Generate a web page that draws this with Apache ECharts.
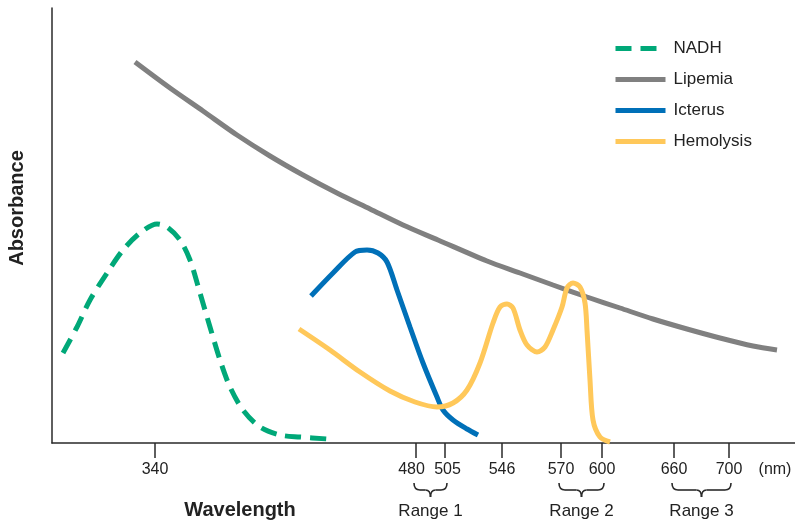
<!DOCTYPE html>
<html>
<head>
<meta charset="utf-8">
<script src="https://cdn.jsdelivr.net/npm/echarts@6/dist/echarts.min.js"></script>
<style>html,body{margin:0;padding:0;background:#fff}#c{width:795px;height:521px}</style>
</head>
<body>
<div id="c"></div>
<script>
// Schematic axis: x in schematic position units, y in arbitrary absorbance units
const tickNm = [340, 480, 505, 546, 570, 600, 660, 700];
const tickPos = [103, 364, 393, 450, 509, 550, 622, 677];
const unitPos = 723;
const unitLabel = '(nm)';
const ranges = [
  { name: 'Range 1', from: 480, to: 505 },
  { name: 'Range 2', from: 570, to: 600 },
  { name: 'Range 3', from: 660, to: 700 }
];
const seriesNames = ['NADH', 'Lipemia', 'Icterus', 'Hemolysis'];

const nadh = [[11,90],[25,116],[38,143],[55,170],[71,193],[88,210],[105,219],[115,216],[128,203],[138,183],[148,150],[158,116],[168,83],[178,56],[191,33],[208,16],[228,8],[248,6],[276,4]];
const lipemia = [[83,381],[118,355],[151,332],[185,308],[218,287],[251,268],[285,250],[318,234],[351,218],[386,203],[435,182],[468,170],[501,158],[535,146],[568,135],[601,124],[635,114],[668,105],[701,97],[725,93]];
const icterus = [[259,147],[281,170],[303,191],[315,193],[326,190],[335,181],[345,153],[358,116],[371,80],[385,46],[391,33],[401,23],[415,14],[426,8]];
const hemolysis = [[247,114],[278,93],[308,71],[338,52],[363,41],[385,36],[401,40],[415,53],[428,80],[441,120],[448,136],[455,139],[461,135],[468,113],[475,98],[485,91],[493,96],[501,113],[510,136],[515,155],[521,160],[528,156],[533,140],[535,113],[538,63],[541,23],[548,6],[558,1]];

const colors = { NADH: '#00a878', Lipemia: '#808080', Icterus: '#0070b8', Hemolysis: '#ffc85a' };
const FONT = '"Liberation Sans", Arial, sans-serif';
const TXT = '#222';

function posOf(nm) { return tickPos[tickNm.indexOf(nm)]; }

const chart = echarts.init(document.getElementById('c'), null, { renderer: 'canvas' });

function lineSeries(name, data, dashed) {
  return {
    name, type: 'line', data, smooth: 0.3, symbol: 'none', silent: true,
    lineStyle: { color: colors[name], width: 5, type: dashed ? [16, 9] : 'solid', cap: 'butt' },
    itemStyle: { color: colors[name] }
  };
}

chart.setOption({
  animation: false,
  grid: { left: 52, right: 0, top: 8, bottom: 78 },
  xAxis: {
    type: 'value', min: 0, max: 743,
    splitLine: { show: false },
    axisLine: { show: true, lineStyle: { color: '#2a2a2a', width: 1.5 } },
    axisTick: { show: true, customValues: tickPos, length: 15, lineStyle: { color: '#2a2a2a', width: 1.5 } },
    axisLabel: {
      customValues: tickPos.concat([unitPos]), margin: 19,
      color: TXT, fontFamily: FONT, fontSize: 16,
      rich: {
        l: { color: TXT, fontFamily: FONT, fontSize: 16, padding: [0, 9, 0, 0] },
        r: { color: TXT, fontFamily: FONT, fontSize: 16, padding: [0, 0, 0, 5] }
      },
      formatter: function (v) {
        if (Math.abs(v - unitPos) < 0.5) return unitLabel;
        for (let i = 0; i < tickPos.length; i++) {
          if (Math.abs(v - tickPos[i]) < 0.5) {
            const s = String(tickNm[i]);
            if (tickNm[i] === 480) return '{l|' + s + '}';
            if (tickNm[i] === 505) return '{r|' + s + '}';
            return s;
          }
        }
        return '';
      }
    }
  },
  yAxis: {
    type: 'value', min: 0, max: 435,
    splitLine: { show: false },
    axisLine: { show: true, lineStyle: { color: '#2a2a2a', width: 1.5 } },
    axisTick: { show: false }, axisLabel: { show: false }
  },
  legend: {
    data: seriesNames.map(function (n) { return { name: n, itemStyle: { opacity: 0 } }; }),
    orient: 'vertical', left: 608, top: 35,
    itemWidth: 50, itemHeight: 14, itemGap: 14,
    lineStyle: { width: 5 },
    textStyle: { color: TXT, fontFamily: FONT, fontSize: 17, padding: [0, 0, 0, 3] },
    selectedMode: false
  },
  series: [
    lineSeries('NADH', nadh, true),
    lineSeries('Lipemia', lipemia, false),
    lineSeries('Icterus', icterus, false),
    lineSeries('Hemolysis', hemolysis, false)
  ]
});

// Annotations: braces and range labels placed from axis values
const graphics = [];
const yTop = 483, yMid = 490, yBot = 497;
const braceStyle = { fill: null, stroke: '#2a2a2a', lineWidth: 1.6 };
function bz(x1, y1, cx, cy, x2, y2) {
  return { type: 'bezierCurve', shape: { x1: x1, y1: y1, cpx1: cx, cpy1: cy, x2: x2, y2: y2 }, style: braceStyle, silent: true };
}
function ln(x1, y1, x2, y2) {
  return { type: 'line', shape: { x1: x1, y1: y1, x2: x2, y2: y2 }, style: braceStyle, silent: true };
}
ranges.forEach(function (r) {
  const x1 = chart.convertToPixel({ xAxisIndex: 0 }, posOf(r.from)) - 2;
  const x2 = chart.convertToPixel({ xAxisIndex: 0 }, posOf(r.to)) + 2;
  const xm = (x1 + x2) / 2;
  graphics.push(bz(x1, yTop, x1, yMid, x1 + 6, yMid));
  graphics.push(ln(x1 + 6, yMid, xm - 5, yMid));
  graphics.push(bz(xm - 5, yMid, xm, yMid, xm, yBot));
  graphics.push(bz(xm, yBot, xm, yMid, xm + 5, yMid));
  graphics.push(ln(xm + 5, yMid, x2 - 6, yMid));
  graphics.push(bz(x2 - 6, yMid, x2, yMid, x2, yTop));
  graphics.push({ type: 'text', x: xm, y: 511, style: { text: r.name, fill: TXT, font: '17px ' + FONT, textAlign: 'center', textVerticalAlign: 'middle' }, silent: true });
});
graphics.push({ type: 'text', x: 240, y: 510, style: { text: 'Wavelength', fill: TXT, font: 'bold 20px ' + FONT, textAlign: 'center', textVerticalAlign: 'middle' }, silent: true });
graphics.push({ type: 'text', x: 17, y: 208, rotation: Math.PI / 2, style: { text: 'Absorbance', fill: TXT, font: 'bold 20px ' + FONT, textAlign: 'center', textVerticalAlign: 'middle' }, silent: true });
chart.setOption({ graphic: graphics });
</script>
</body>
</html>
